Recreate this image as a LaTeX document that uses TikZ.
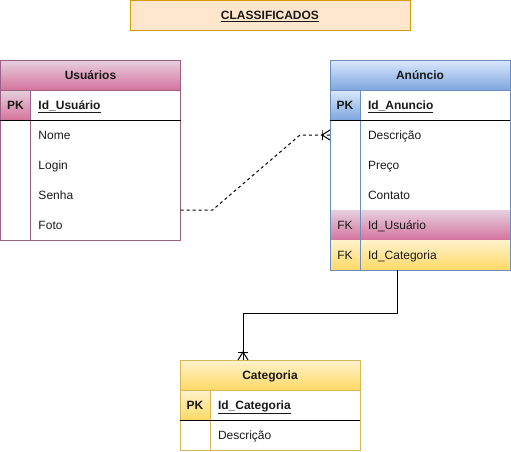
\documentclass[tikz,border=0pt]{standalone}
\usepackage{fontspec}
\setmainfont{Liberation Sans}
\definecolor{pinkA}{HTML}{E6D0DE}
\definecolor{pinkB}{HTML}{D5739D}
\definecolor{pinkS}{HTML}{996185}
\definecolor{blueA}{HTML}{DAE8FC}
\definecolor{blueB}{HTML}{7EA6E0}
\definecolor{blueS}{HTML}{6C8EBF}
\definecolor{yelA}{HTML}{FFF2CC}
\definecolor{yelB}{HTML}{FFD966}
\definecolor{yelS}{HTML}{D6B656}
\definecolor{titleF}{HTML}{FFE6CC}
\definecolor{titleS}{HTML}{D79B00}
\definecolor{txt}{HTML}{1A1A1A}
\begin{document}
\begin{tikzpicture}[x=0.75pt,y=-0.75pt,
  cell/.style={rectangle, inner sep=0pt, outer sep=0pt, anchor=north west,
    minimum height=22.5pt, font=\fontsize{9}{11}\selectfont, text=txt,
    text height=6.45pt, text depth=0pt},
  keyc/.style={cell, minimum width=22.5pt, text width=22.5pt, align=center},
  valc/.style={cell, minimum width=112.5pt, text width=100.5pt, inner xsep=6pt, align=left},
  hdr/.style={cell, minimum width=135pt, font=\fontsize{9}{11}\selectfont\bfseries},
  pkc/.style={font=\fontsize{9}{11}\selectfont\bfseries},
  pinkfill/.style={top color=pinkA, bottom color=pinkB},
  bluefill/.style={top color=blueA, bottom color=blueB},
  yelfill/.style={top color=yelA, bottom color=yelB},
  edge/.style={line width=0.75pt},
  rel/.style={line width=0.75pt, black},
]
\useasboundingbox (0,0) rectangle (511,451);

% Title
\node[cell, minimum width=210pt, minimum height=22.125pt, fill=titleF, draw=titleS, line width=0.75pt,
  font=\fontsize{9}{11}\selectfont\bfseries] (title) at (130,0.5) {\underline{CLASSIFICADOS}};

% ---------- Usuarios ----------
\node[hdr, pinkfill] (uH) at (0.5,60) {Usuários};
\node[keyc, pinkfill, pkc] (uPK) at (0.5,90) {PK};
\node[valc, pkc] (uPKv) at (30.5,90) {\underline{Id\_Usuário}};
\node[keyc] (u1k) at (0.5,120) {};
\node[valc] (u1) at (30.5,120) {Nome};
\node[keyc] (u2k) at (0.5,150) {};
\node[valc] (u2) at (30.5,150) {Login};
\node[keyc] (u3k) at (0.5,180) {};
\node[valc] (u3) at (30.5,180) {Senha};
\node[keyc] (u4k) at (0.5,210) {};
\node[valc] (u4) at (30.5,210) {Foto};
\draw[edge, pinkS] (uH.north west) rectangle (u4.south east);
\draw[edge, pinkS] (uH.south west) -- (uH.south east);
\draw[edge, pinkS] (uPK.north east) -- (u4k.south east);
\draw[edge, black] (uPK.south west) -- (uPKv.south east);

% ---------- Anuncio ----------
\node[hdr, bluefill] (aH) at (330,60) {Anúncio};
\node[keyc, bluefill, pkc] (aPK) at (330,90) {PK};
\node[valc, pkc] (aPKv) at (360,90) {\underline{Id\_Anuncio}};
\node[keyc] (a1k) at (330,120) {};
\node[valc] (a1) at (360,120) {Descrição};
\node[keyc] (a2k) at (330,150) {};
\node[valc] (a2) at (360,150) {Preço};
\node[keyc] (a3k) at (330,180) {};
\node[valc] (a3) at (360,180) {Contato};
\node[keyc, pinkfill] (a4k) at (330,210) {FK};
\node[valc, pinkfill] (a4) at (360,210) {Id\_Usuário};
\node[keyc, yelfill] (a5k) at (330,240) {FK};
\node[valc, yelfill] (a5) at (360,240) {Id\_Categoria};
\draw[edge, blueS] (aH.north west) rectangle (a5.south east);
\draw[edge, blueS] (aH.south west) -- (aH.south east);
\draw[edge, blueS] (aPK.north east) -- (a5k.south east);
\draw[edge, black] (aPK.south west) -- (aPKv.south east);

% ---------- Categoria ----------
\node[hdr, yelfill] (cH) at (180,360) {Categoria};
\node[keyc, yelfill, pkc] (cPK) at (180,390) {PK};
\node[valc, pkc] (cPKv) at (210,390) {\underline{Id\_Categoria}};
\node[keyc] (c1k) at (180,420) {};
\node[valc] (c1) at (210,420) {Descrição};
\draw[edge, yelS] (cH.north west) rectangle (c1.south east);
\draw[edge, yelS] (cH.south west) -- (cH.south east);
\draw[edge, yelS] (cPK.north east) -- (c1k.south east);
\draw[edge, black] (cPK.south west) -- (cPKv.south east);

% ---------- Relationships ----------
% Usuarios -> Anuncio (dashed, one-to-many)
\coordinate (r1s) at (u4.north east);
\coordinate (r1e) at (a1k.west);
\draw[rel, dash pattern=on 2.25pt off 2.25pt]
  (r1s) -- ++(32,0) -- ([xshift=-22.5pt]r1e) -- (r1e);
\draw[rel] ([xshift=-6pt]r1e) -- ++(0,-5) -- ++(0,10);
\draw[rel] (r1e) ++(0,-5) -- ([xshift=-6pt]r1e) -- ++(8,5);

% Anuncio -> Categoria (solid, one-to-many)
\coordinate (r2s) at ([xshift=27.75pt]a5.south west);
\coordinate (r2e) at ([xshift=47.25pt]cH.north west);
\draw[rel] (r2s) -- ++(0,43) -| (r2e);
\draw[rel] ([yshift=6pt]r2e) ++(-5,0) -- ++(10,0);
\draw[rel] (r2e) ++(-5,0) -- ([yshift=6pt]r2e) -- ++(5,8);
\end{tikzpicture}
\end{document}
